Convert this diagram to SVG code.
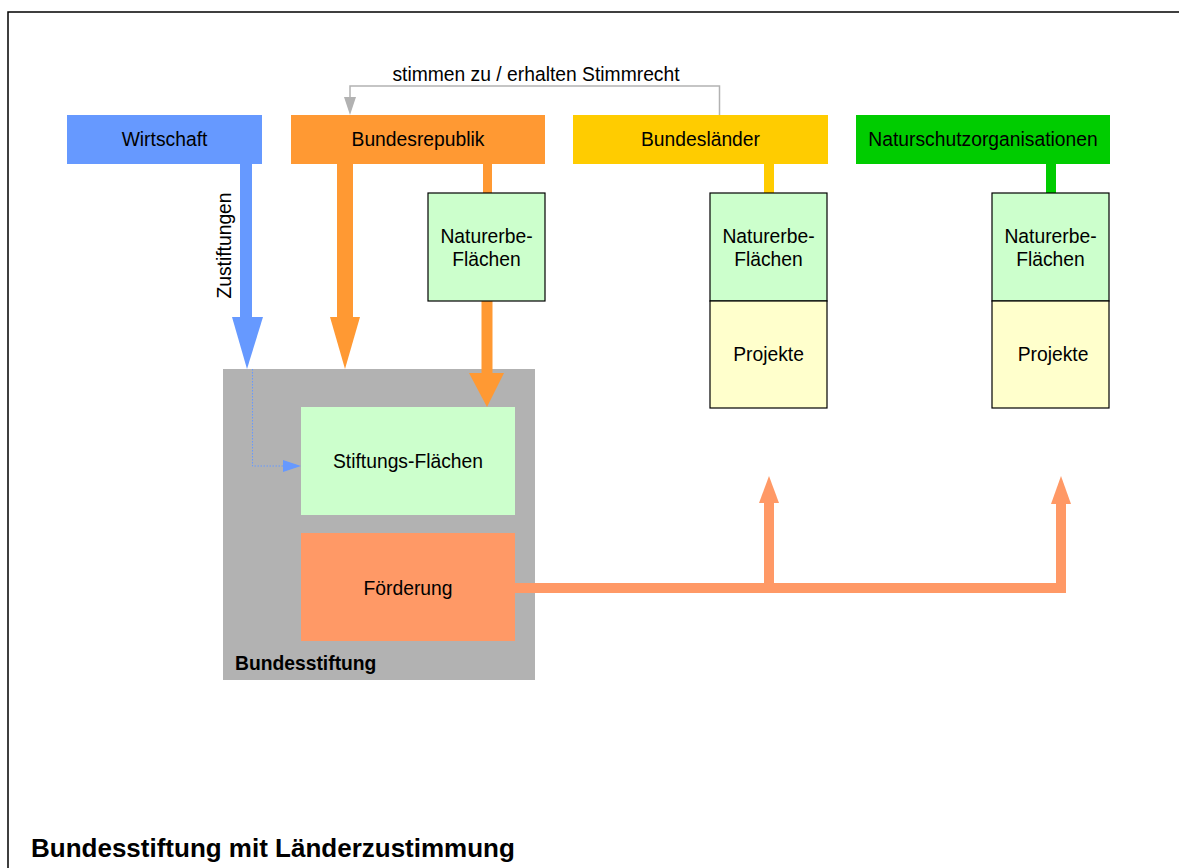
<svg xmlns="http://www.w3.org/2000/svg" width="1179" height="868" viewBox="0 0 1179 868">
  <style>
    text { font-family: "Liberation Sans", Arial, sans-serif; font-size: 19.3px; fill: #000; }
    .c { text-anchor: middle; }
    .b { font-weight: bold; }
    .green { fill: #CCFFCC; }
    .yellow { fill: #FFFFCC; }
    .box { stroke: #000; stroke-width: 1.2; }
    .blue { fill: #6699FF; }
    .orange { fill: #FF9933; }
    .salmon { fill: #FF9966; }
  </style>
  <rect width="1179" height="868" fill="#fff"/>
  <!-- page frame -->
  <rect x="8" y="12" width="1200" height="900" fill="none" stroke="#000" stroke-width="1.5"/>

  <!-- Bundesstiftung container -->
  <g id="bundesstiftung">
    <rect x="223" y="369" width="312" height="311" fill="#B2B2B2"/>
    <text x="235" y="670" class="b">Bundesstiftung</text>
  </g>
  <g id="stiftungs-flaechen">
    <rect x="301" y="407" width="214" height="108" class="green"/>
    <text x="408" y="468" class="c">Stiftungs-Flächen</text>
  </g>
  <g id="foerderung">
    <rect x="301" y="533" width="214" height="108" class="salmon"/>
    <text x="408" y="595" class="c">Förderung</text>
  </g>

  <!-- top row -->
  <g id="wirtschaft">
    <rect x="67" y="115" width="195" height="49" class="blue"/>
    <text x="164.5" y="146" class="c">Wirtschaft</text>
  </g>
  <g id="bundesrepublik">
    <rect x="291" y="115" width="254" height="49" class="orange"/>
    <text x="418" y="146" class="c">Bundesrepublik</text>
  </g>
  <g id="bundeslaender">
    <rect x="573" y="115" width="255" height="49" fill="#FFCC00"/>
    <text x="700.5" y="146" class="c">Bundesländer</text>
  </g>
  <g id="naturschutzorganisationen">
    <rect x="856" y="115" width="254" height="49" fill="#00CC00"/>
    <text x="983" y="146" class="c">Naturschutzorganisationen</text>
  </g>

  <!-- connectors -->
  <g id="connectors">
    <!-- voting link -->
    <path d="M719.5,115 V86 H350 V98" fill="none" stroke="#B2B2B2" stroke-width="1.5"/>
    <polygon points="344,97 356,97 350,115" fill="#B2B2B2"/>
    <text x="536" y="81" class="c">stimmen zu / erhalten Stimmrecht</text>

    <!-- Zustiftungen -->
    <rect x="240" y="164" width="12" height="154" class="blue"/>
    <polygon points="232,317 263,317 247,369" class="blue"/>
    <text transform="translate(231,245.5) rotate(-90)" class="c">Zustiftungen</text>
    <path d="M252.5,369 V466 H285" fill="none" stroke="#6699FF" stroke-width="1" stroke-dasharray="1.5,1.5"/>
    <polygon points="283,460 301,466 283,472" class="blue"/>

    <!-- Bundesrepublik to Bundesstiftung -->
    <rect x="337" y="164" width="16" height="154" class="orange"/>
    <polygon points="330,317 360,317 345,369" class="orange"/>

    <!-- Bundesrepublik to its Naturerbe-Flächen -->
    <rect x="483" y="164" width="9" height="29" class="orange"/>
    <!-- Naturerbe-Flächen to Stiftungs-Flächen -->
    <rect x="481.5" y="301" width="11" height="73" class="orange"/>
    <polygon points="469,373 504,373 487,407" class="orange"/>

    <!-- Länder / NGO links -->
    <rect x="764" y="164" width="10" height="29" fill="#FFCC00"/>
    <rect x="1046" y="164" width="10" height="29" fill="#00CC00"/>

    <!-- Förderung distribution -->
    <path d="M515,588 H1061 V502 M769,588 V502" fill="none" stroke="#FF9966" stroke-width="10"/>
    <polygon points="759,503 779,503 769,476" class="salmon"/>
    <polygon points="1051,504 1071,504 1061,476" class="salmon"/>
  </g>

  <g id="bund-naturerbe">
    <rect x="428" y="193" width="117" height="108" class="green box"/>
    <text x="486.5" y="243" class="c">Naturerbe-</text>
    <text x="486.5" y="266" class="c">Flächen</text>
  </g>

  <g id="laender-naturerbe">
    <rect x="710" y="193" width="117" height="108" class="green box"/>
    <text x="768.5" y="243" class="c">Naturerbe-</text>
    <text x="768.5" y="266" class="c">Flächen</text>
  </g>
  <g id="laender-projekte">
    <rect x="710" y="301" width="117" height="107" class="yellow box"/>
    <text x="768.5" y="361" class="c">Projekte</text>
  </g>

  <g id="ngo-naturerbe">
    <rect x="992" y="193" width="117" height="108" class="green box"/>
    <text x="1050.5" y="243" class="c">Naturerbe-</text>
    <text x="1050.5" y="266" class="c">Flächen</text>
  </g>
  <g id="ngo-projekte">
    <rect x="992" y="301" width="117" height="107" class="yellow box"/>
    <text x="1053" y="361" class="c">Projekte</text>
  </g>

  <text x="31" y="857" class="b" style="font-size:26px">Bundesstiftung mit Länderzustimmung</text>
</svg>
